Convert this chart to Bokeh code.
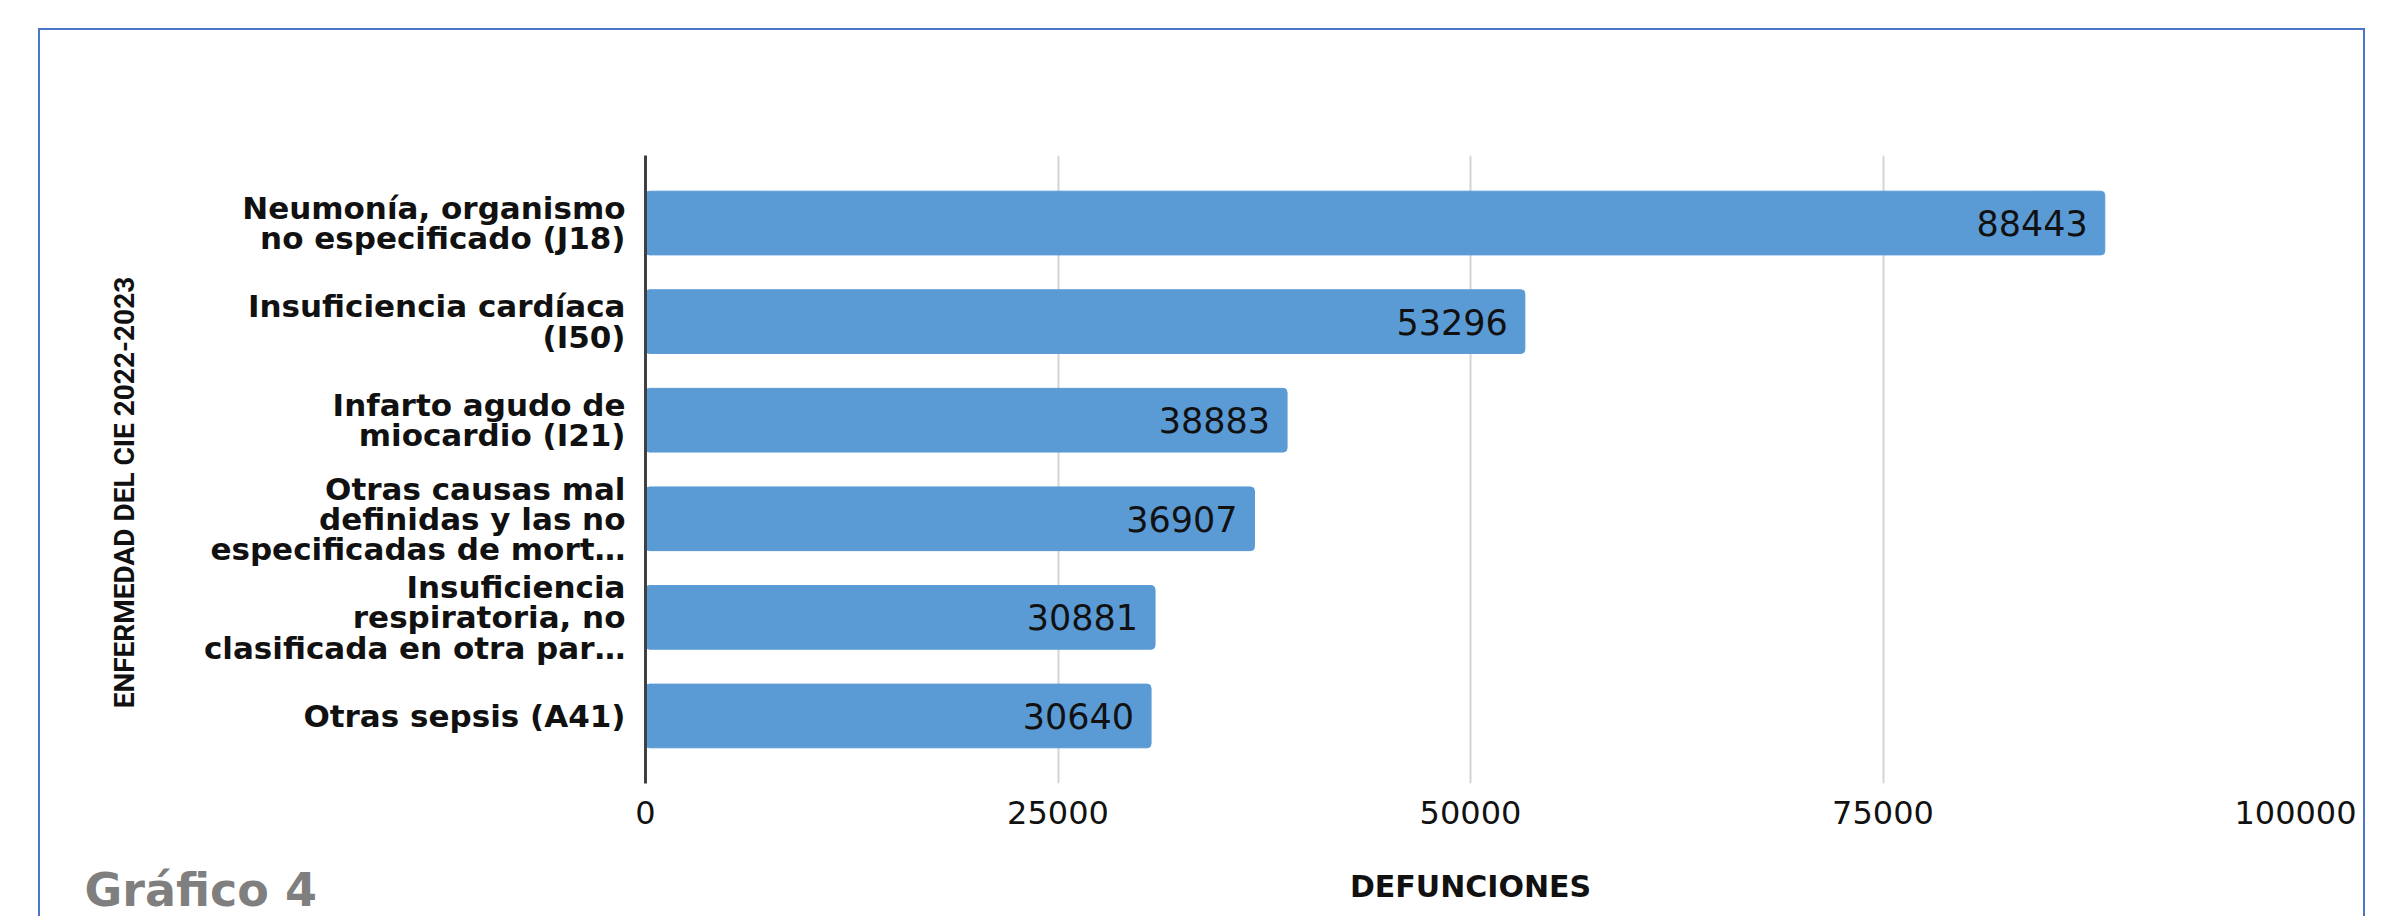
import math
from bokeh.plotting import figure
from bokeh.layouts import column, row
from bokeh.models import (FactorRange, Range1d, Label, ColumnDataSource,
                          FixedTicker, BasicTickFormatter)
from bokeh.embed import file_html
from bokeh.resources import INLINE
from bokeh.core.properties import value

# ---- data (top to bottom as shown) ----
categories = [
    "Neumonía, organismo\nno especificado (J18)",
    "Insuficiencia cardíaca\n(I50)",
    "Infarto agudo de\nmiocardio (I21)",
    "Otras causas mal\ndefinidas y las no\nespecificadas de mort…",
    "Insuficiencia\nrespiratoria, no\nclasificada en otra par…",
    "Otras sepsis (A41)",
]
defunciones = [88443, 53296, 38883, 36907, 30881, 30640]
x_ticks = [0, 25000, 50000, 75000, 100000]
x_title = "DEFUNCIONES"
y_title = "ENFERMEDAD DEL CIE 2022-2023"
caption = "Gráfico 4"

src = ColumnDataSource(dict(
    cat=categories,
    val=defunciones,
    lbl=[str(v) for v in defunciones],
))

BLUE_BORDER = "2px solid #4a76c9"
TOTAL_W = 2323
LEFT_W = 140
MAIN_H = 820
BOTTOM_H = 66


def blank(width, height):
    f = figure(width=width, height=height, x_axis_type=None, y_axis_type=None,
               output_backend="svg", toolbar_location=None,
               min_border_left=0, min_border_right=0,
               min_border_top=0, min_border_bottom=0)
    f.outline_line_color = None
    f.background_fill_color = "white"
    f.border_fill_color = "white"
    return f


# ---- main chart ----
p = figure(
    width=TOTAL_W - LEFT_W, height=MAIN_H,
    y_range=FactorRange(factors=categories[::-1], range_padding=0.185,
                        range_padding_units="absolute"),
    x_range=Range1d(0, 100000),
    output_backend="svg", toolbar_location=None,
    min_border_left=605 - LEFT_W, min_border_right=68,
    min_border_top=125, min_border_bottom=67,
)
p.background_fill_color = "white"
p.border_fill_color = "white"
p.outline_line_color = None

p.hbar(y="cat", left=0, right="val", height=0.646, source=src,
       fill_color="#5B9BD5", line_color="#5B9BD5", border_radius=4)
p.text(x="val", y="cat", text="lbl", source=src, x_offset=-17,
       text_align="right", text_baseline="middle",
       text_font=value("DejaVu Sans"), text_font_size="35px",
       text_color="#111111")

p.xaxis.ticker = FixedTicker(ticks=x_ticks)
p.xaxis.formatter = BasicTickFormatter(use_scientific=False)
p.xaxis.axis_line_color = None
p.xaxis.major_tick_line_color = None
p.xaxis.minor_tick_line_color = None
p.xaxis.major_tick_out = 0
p.xaxis.major_label_standoff = 17
p.xaxis.major_label_text_font = "DejaVu Sans"
p.xaxis.major_label_text_font_size = "32px"
p.xaxis.major_label_text_color = "#111111"

p.xgrid.ticker = FixedTicker(ticks=x_ticks)
p.xgrid.grid_line_color = "#d4d4d4"
p.xgrid.grid_line_width = 2
p.ygrid.grid_line_color = None

p.yaxis.axis_line_color = "#404040"
p.yaxis.axis_line_width = 3
p.yaxis.major_tick_line_color = None
p.yaxis.minor_tick_line_color = None
p.yaxis.major_tick_out = 0
p.yaxis.major_label_standoff = 20
p.yaxis.major_label_text_font = "DejaVu Sans"
p.yaxis.major_label_text_font_size = "31px"
p.yaxis.major_label_text_font_style = "bold"
p.yaxis.major_label_text_color = "#111111"
p.yaxis.major_label_text_line_height = 0.84

# ---- left strip with the rotated y title ----
p_left = blank(LEFT_W, MAIN_H)
p_left.add_layout(Label(x=84, y=291, x_units="screen", y_units="screen",
                        text=y_title, angle=math.pi / 2, text_align="center",
                        text_baseline="middle", text_font="Roboto",
                        text_font_size="28px", text_font_style="bold",
                        text_color="#111111"))

# ---- bottom strip with x title and caption ----
p_bot = blank(TOTAL_W, BOTTOM_H)
p_bot.add_layout(Label(x=1430, y=30, x_units="screen", y_units="screen",
                       text=x_title, text_align="center",
                       text_baseline="alphabetic", text_font="DejaVu Sans",
                       text_font_size="30px", text_font_style="bold",
                       text_color="#111111"))
p_bot.add_layout(Label(x=44, y=27, x_units="screen", y_units="screen",
                       text=caption, text_align="left",
                       text_baseline="alphabetic", text_font="DejaVu Sans",
                       text_font_size="46px", text_font_style="bold",
                       text_color="#7f7f7f"))

layout = column(
    row(p_left, p, spacing=0),
    p_bot,
    spacing=0,
    margin=(28, 0, 0, 38),
    styles={"border-top": BLUE_BORDER, "border-left": BLUE_BORDER,
            "border-right": BLUE_BORDER},
)

open("out.html", "w").write(file_html(layout, INLINE))
